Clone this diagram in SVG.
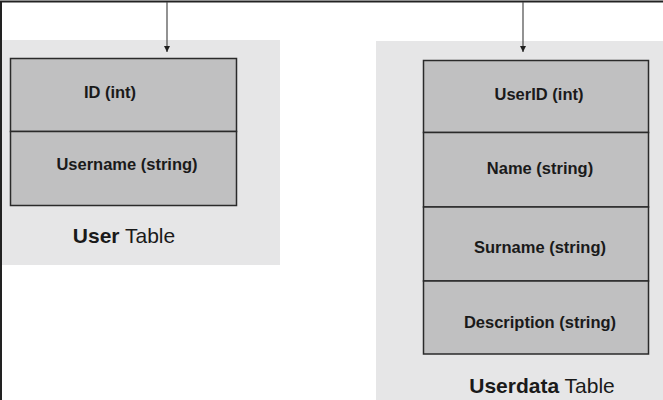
<svg xmlns="http://www.w3.org/2000/svg" width="663" height="400" viewBox="0 0 663 400">
<defs>
<marker id="arr" viewBox="0 0 10 10" refX="10" refY="5" markerWidth="6" markerHeight="6" markerUnits="userSpaceOnUse" orient="auto"><path d="M0,0 L10,5 L0,10 Z" fill="#1f1f1f"/></marker>
</defs>
<style>
.panel{fill:#e6e6e7}
.cell{fill:#c0c0c1;stroke:#2a2a2a;stroke-width:1.5}
.ft{font-family:"Liberation Sans",Arial,sans-serif;font-weight:bold;font-size:16.5px;fill:#1a1a1a;text-anchor:middle}
.lbl{font-family:"Liberation Sans",Arial,sans-serif;font-size:21px;fill:#1a1a1a;text-anchor:middle}
.conn{fill:none;stroke:#4a4a4a;stroke-width:1.2}
</style>
<rect width="663" height="400" fill="#ffffff"/>
<g id="frame"><path d="M1,400 V1.5 H663" fill="none" stroke="#222" stroke-width="2"/></g>
<g id="user-table">
<rect class="panel" x="2" y="40" width="278" height="225"/>
<rect class="cell" x="10.5" y="58.5" width="226" height="73"/>
<text class="ft" x="110" y="98">ID (int)</text>
<rect class="cell" x="10.5" y="131.5" width="226" height="74"/>
<text class="ft" x="127" y="170">Username (string)</text>
<text class="lbl" x="124" y="243"><tspan font-weight="bold">User</tspan> Table</text>
</g>
<g id="userdata-table">
<rect class="panel" x="376" y="41" width="287" height="359"/>
<rect class="cell" x="423.5" y="60.5" width="225" height="72"/>
<text class="ft" x="539" y="100">UserID (int)</text>
<rect class="cell" x="423.5" y="132.5" width="225" height="74.5"/>
<text class="ft" x="540" y="174">Name (string)</text>
<rect class="cell" x="423.5" y="207" width="225" height="74"/>
<text class="ft" x="540" y="253">Surname (string)</text>
<rect class="cell" x="423.5" y="281" width="225" height="73"/>
<text class="ft" x="540" y="328">Description (string)</text>
<text class="lbl" x="542" y="393"><tspan font-weight="bold">Userdata</tspan> Table</text>
</g>
<g id="connectors">
<path class="conn" d="M167,2 V52" marker-end="url(#arr)"/>
<path class="conn" d="M523,2 V52" marker-end="url(#arr)"/>
</g>
</svg>
